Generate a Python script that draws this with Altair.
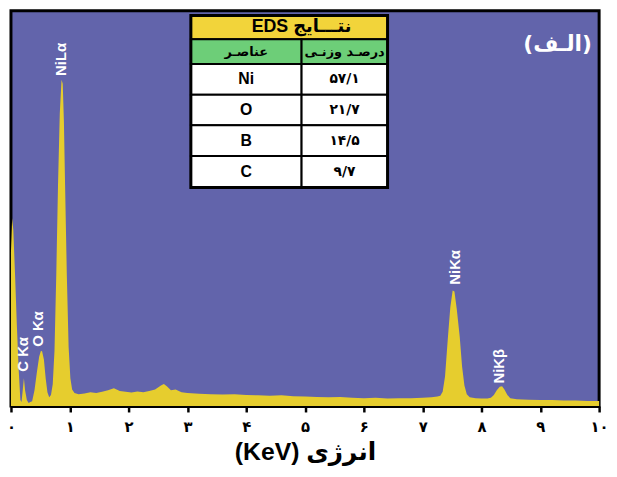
import json
import altair as alt
import pandas as pd

# ---------------- data ----------------
energy_kev = [0.00, 0.02, 0.04, 0.07, 0.10, 0.13, 0.16, 0.18, 0.20, 0.22, 0.24, 0.27, 0.30,
              0.33, 0.36, 0.40, 0.44, 0.48, 0.51, 0.53, 0.56, 0.59, 0.62, 0.65, 0.68, 0.71,
              0.74, 0.77, 0.80, 0.83, 0.86, 0.88, 0.90, 0.92, 0.95, 0.98, 1.01, 1.04, 1.08,
              1.15, 1.25, 1.35, 1.45, 1.55, 1.65, 1.75, 1.85, 1.95, 2.05, 2.15, 2.25, 2.35,
              2.45, 2.55, 2.60, 2.65, 2.72, 2.80, 2.90, 3.00, 3.20, 3.40, 3.60, 3.80, 4.00,
              4.20, 4.40, 4.60, 4.80, 5.00, 5.20, 5.40, 5.60, 5.80, 6.00, 6.20, 6.40, 6.60,
              6.80, 7.00, 7.15, 7.25, 7.30, 7.34, 7.38, 7.43, 7.47, 7.51, 7.54, 7.58, 7.63,
              7.67, 7.71, 7.75, 7.80, 7.90, 8.00, 8.10, 8.16, 8.21, 8.26, 8.31, 8.35, 8.39,
              8.44, 8.49, 8.60, 8.80, 9.00, 9.20, 9.40, 9.60, 9.80, 10.00]
counts = [390, 475, 445, 330, 205, 95, 15, 10, 40, 70, 40, 15, 8,
          10, 12, 40, 85, 125, 140, 138, 118, 70, 35, 22, 28, 55,
          140, 330, 560, 740, 825, 815, 720, 560, 330, 150, 70, 42, 33,
          30, 32, 35, 33, 36, 40, 45, 38, 36, 34, 37, 35, 38,
          42, 52, 56, 50, 40, 42, 35, 33, 31, 30, 29, 30, 28,
          27, 26, 27, 25, 24, 23, 22, 23, 21, 20, 21, 19, 20,
          20, 21, 22, 24, 26, 36, 75, 175, 250, 292, 290, 245, 175,
          100, 52, 30, 22, 20, 19, 19, 21, 28, 40, 49, 50, 42,
          28, 20, 17, 16, 15, 15, 14, 14, 13, 13]

peak_labels = ["C K\u03b1", "O K\u03b1", "NiL\u03b1", "NiK\u03b1", "NiK\u03b2"]
peak_label_kev = [0.21, 0.46, 0.855, 7.55, 8.30]
peak_label_counts = [87, 150, 835, 307, 57]

tick_values = [0, 0.5, 1, 1.5, 2, 2.5, 3, 3.5, 4, 4.5, 5, 5.5, 6, 6.5, 7, 7.5, 8, 8.5, 9, 9.5, 10]
tick_labels = ["۰", "۱", "۲", "۳", "۴", "۵", "۶", "۷", "۸", "۹", "۱۰"]
x_title = "(KeV) انرژی"
panel_label = "(الـف)"

table_title = "EDS نتـــایج"
col_headers = ["عناصـر", "درصـد وزنـی"]
elements = ["Ni", "O", "B", "C"]
weight_pct = ["۵۷/۱", "۲۱/۷", "۱۴/۵", "۹/۷"]

# ---------------- styles ----------------
BG = "#6264AB"
YELLOW = "#E6CD2E"
HEAD_YELLOW = "#F2D43A"
GREEN = "#6DCE78"
LATIN = "Liberation Sans, DejaVu Sans"
ARABIC = "DejaVu Sans"

spec_df = pd.DataFrame({"E": energy_kev, "I": counts})
lab_df = pd.DataFrame({"E": peak_label_kev, "I": peak_label_counts, "t": peak_labels})

xscale = alt.Scale(domain=[0, 10], nice=False, zero=False)
yscale = alt.Scale(domain=[0, 1000], nice=False)

label_expr = ("datum.value % 1 === 0 ? " + json.dumps(tick_labels, ensure_ascii=False)
              + "[datum.value] : ''")

area = alt.Chart(spec_df).mark_area(color=YELLOW, interpolate="linear").encode(
    x=alt.X("E:Q", scale=xscale,
            axis=alt.Axis(values=tick_values, labelExpr=label_expr, title=x_title,
                          grid=False, tickSize=6, tickWidth=2.5, tickColor="black",
                          domainColor="black", domainWidth=3, labelColor="black",
                          labelFont=ARABIC, labelFontWeight="bold", labelFontSize=15,
                          labelPadding=8, labelFlush=False, labelOverlap=False,
                          titleFont=LATIN, titleFontSize=25, titleFontWeight="bold",
                          titleColor="black", titlePadding=5)),
    y=alt.Y("I:Q", scale=yscale, axis=None),
)

peak_text = alt.Chart(lab_df).mark_text(
    angle=270, align="left", baseline="middle", color="white",
    font=LATIN, fontWeight="bold", fontSize=15,
).encode(
    x=alt.X("E:Q", scale=xscale),
    y=alt.Y("I:Q", scale=yscale),
    text="t:N",
)

spectrum = alt.layer(area, peak_text)

# ---------------- table ----------------
cells = [{"r0": 0, "r1": 1, "c0": 0, "c1": 2, "fill": HEAD_YELLOW, "t": table_title, "k": "title"}]
cells.append({"r0": 1, "r1": 2, "c0": 0, "c1": 1, "fill": GREEN, "t": col_headers[0], "k": "head"})
cells.append({"r0": 1, "r1": 2, "c0": 1, "c1": 2, "fill": GREEN, "t": col_headers[1], "k": "head"})
for i, (el, pct) in enumerate(zip(elements, weight_pct)):
    cells.append({"r0": 2 + i, "r1": 3 + i, "c0": 0, "c1": 1, "fill": "white", "t": el, "k": "el"})
    cells.append({"r0": 2 + i, "r1": 3 + i, "c0": 1, "c1": 2, "fill": "white", "t": pct, "k": "num"})
cell_df = pd.DataFrame(cells)
cell_df["cm"] = (cell_df["c0"] + cell_df["c1"]) / 2
cell_df["rm"] = (cell_df["r0"] + cell_df["r1"]) / 2
n_rows = 2 + len(elements)

txs = alt.Scale(domain=[0, 1, 2], range=[182, 294, 381], zero=False, nice=False)
tys = alt.Scale(domain=list(range(n_rows + 1)), range=[5, 29, 54, 85, 116, 147, 179],
                zero=False, nice=False)

rects = alt.Chart(cell_df).mark_rect(stroke="black", strokeWidth=2).encode(
    x=alt.X("c0:Q", scale=txs, axis=None), x2="c1:Q",
    y=alt.Y("r0:Q", scale=tys, axis=None), y2="r1:Q",
    fill=alt.Fill("fill:N", scale=None),
)
border_df = pd.DataFrame({"r0": [0], "r1": [n_rows], "c0": [0], "c1": [2]})
border = alt.Chart(border_df).mark_rect(fillOpacity=0, stroke="black", strokeWidth=3).encode(
    x=alt.X("c0:Q", scale=txs, axis=None), x2="c1:Q",
    y=alt.Y("r0:Q", scale=tys, axis=None), y2="r1:Q",
)


def cell_text(kind, font, size):
    return alt.Chart(cell_df).transform_filter(alt.datum.k == kind).mark_text(
        font=font, fontWeight="bold", color="black", baseline="middle", align="center",
        fontSize=size,
    ).encode(
        x=alt.X("cm:Q", scale=txs, axis=None),
        y=alt.Y("rm:Q", scale=tys, axis=None),
        text="t:N",
    )


table = alt.layer(rects, border,
                  cell_text("title", LATIN, 18),
                  cell_text("head", ARABIC, 13),
                  cell_text("el", LATIN, 16),
                  cell_text("num", ARABIC, 14))

panel = alt.Chart(pd.DataFrame({"t": [panel_label]})).mark_text(
    font=ARABIC, fontWeight="bold", fontSize=22, color="white", align="center", baseline="middle",
).encode(x=alt.value(553), y=alt.value(34), text="t:N")

chart = alt.layer(spectrum, table, panel).resolve_scale(x="independent", y="independent").properties(
    width=595, height=400,
    autosize=alt.AutoSizeParams(type="none"),
    padding={"left": 3, "top": 0, "right": 10, "bottom": 61},
).configure_view(fill=BG, stroke="black", strokeWidth=3)

chart.save("out.html", embed_options={"renderer": "svg", "actions": False})
